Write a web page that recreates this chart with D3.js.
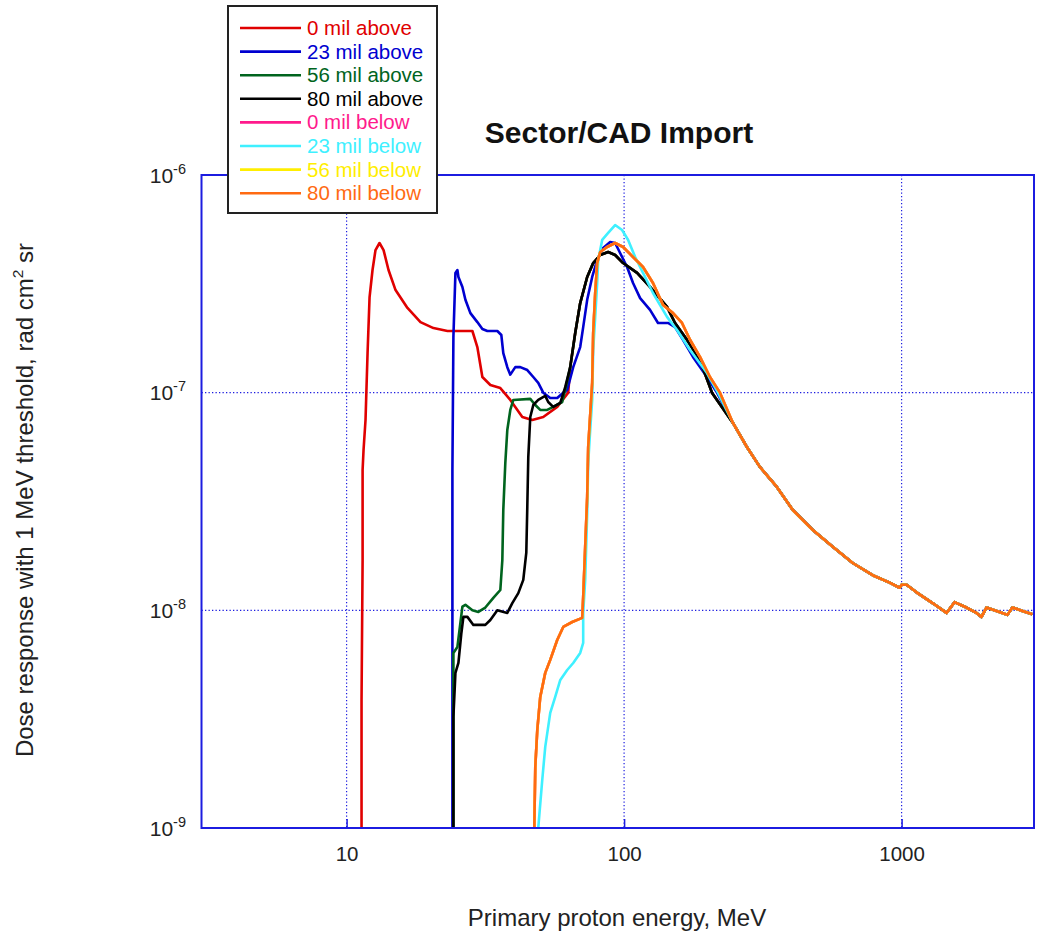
<!DOCTYPE html>
<html>
<head>
<meta charset="utf-8">
<script src="https://cdn.jsdelivr.net/npm/d3@7"></script>
<style>
  body { margin: 0; background: #fff; }
  svg { display: block; font-family: "Liberation Sans", Arial, Helvetica, sans-serif; }
</style>
</head>
<body>
<svg id="chart" width="1040" height="946"></svg>
<script>
// ---- Dose response data (energy in MeV, dose in rad cm^2 sr) ----

// Shared high-energy tail, common to every configuration
const tailEnergy = [246.7, 277.0, 308.5, 355.1, 405.4, 478.6, 564.8, 666.4, 786.6, 905.4, 983.5, 1000, 1042, 1132, 1293, 1452, 1551, 1713, 1861, 1940, 2022, 2252, 2406, 2508, 2725, 2960];
const tailDose = [7.26e-8, 5.63e-8, 4.56e-8, 3.69e-8, 2.89e-8, 2.34e-8, 1.96e-8, 1.65e-8, 1.45e-8, 1.34e-8, 1.27e-8, 1.31e-8, 1.31e-8, 1.21e-8, 1.08e-8, 9.73e-9, 1.09e-8, 1.03e-8, 9.73e-9, 9.33e-9, 1.03e-8, 9.83e-9, 9.53e-9, 1.03e-8, 9.94e-9, 9.6e-9];

// Main peak shared by the 0 / 56 / 80 mil "above" cases
const riseAboveEnergy = [63.95, 66.66, 69.47, 73.62, 77.38, 82.00, 87.62, 92.82, 99.17, 111.4, 124.0, 142.8, 152.6, 168.5, 187.7, 207.3];
const riseAboveDose = [1.31e-7, 1.88e-7, 2.58e-7, 3.40e-7, 3.94e-7, 4.29e-7, 4.43e-7, 4.29e-7, 3.94e-7, 3.55e-7, 3.06e-7, 2.48e-7, 2.09e-7, 1.75e-7, 1.41e-7, 1.0e-7];

// 0 mil above
const red0Energy = [11.32, 11.32, 11.42, 11.42, 11.51, 11.70, 11.90, 12.10, 12.40, 12.71, 13.14, 13.59, 14.16, 15.01, 16.57, 18.46, 20.56, 23.09, 28.40, 29.59, 30.85, 32.96, 35.81, 38.90, 42.97, 46.69, 51.13, 57.41, 62.90];
const red0Dose = [1.0e-9, 3.88e-9, 1.70e-8, 4.41e-8, 5.45e-8, 7.49e-8, 1.52e-7, 2.75e-7, 3.66e-7, 4.52e-7, 4.87e-7, 4.52e-7, 3.66e-7, 2.96e-7, 2.45e-7, 2.11e-7, 1.98e-7, 1.92e-7, 1.92e-7, 1.62e-7, 1.18e-7, 1.085e-7, 1.05e-7, 9.26e-8, 7.73e-8, 7.49e-8, 7.73e-8, 8.60e-8, 1.0e-7];

// 23 mil above
const blue23Energy = [24.06, 24.06, 24.26, 24.67, 25.08, 25.29, 26.14, 26.80, 27.93, 29.59, 30.85, 32.15, 34.93, 36.11, 36.70, 37.94, 38.90, 40.54, 42.26, 44.79, 47.07, 49.05, 51.13, 54.18, 57.41, 60.35, 62.37, 65.56, 69.47, 71.22, 73.62, 76.74, 79.99, 84.07, 89.08, 92.82, 96.74, 102.5, 107.7, 114.2, 124.0, 132.5, 144.0, 152.6, 163.0, 177.1, 198.9, 216.1];
const blue23Dose = [1.0e-9, 4.41e-8, 1.80e-7, 3.55e-7, 3.66e-7, 3.40e-7, 3.06e-7, 2.67e-7, 2.32e-7, 2.11e-7, 1.96e-7, 1.92e-7, 1.92e-7, 1.84e-7, 1.52e-7, 1.31e-7, 1.21e-7, 1.31e-7, 1.31e-7, 1.27e-7, 1.18e-7, 1.11e-7, 1.0e-7, 9.45e-8, 9.45e-8, 1.0e-7, 1.03e-7, 1.31e-7, 1.62e-7, 2.00e-7, 2.67e-7, 3.40e-7, 4.07e-7, 4.62e-7, 4.92e-7, 4.87e-7, 4.38e-7, 3.78e-7, 3.19e-7, 2.72e-7, 2.40e-7, 2.09e-7, 2.09e-7, 2.00e-7, 1.75e-7, 1.46e-7, 1.18e-7, 1.0e-7];

// 56 mil above
const green56Energy = [24.26, 24.26, 24.26, 25.08, 26.14, 26.80, 28.40, 29.84, 31.62, 33.79, 35.81, 36.41, 36.70, 37.32, 37.94, 38.90, 39.88, 45.91, 47.86, 49.87, 52.84, 55.54, 59.84, 61.35];
const green56Dose = [1.0e-9, 3.38e-9, 6.37e-9, 6.79e-9, 1.04e-8, 1.06e-8, 1.00e-8, 9.83e-9, 1.03e-8, 1.14e-8, 1.24e-8, 1.70e-8, 2.89e-8, 4.75e-8, 6.74e-8, 8.33e-8, 9.26e-8, 9.36e-8, 8.78e-8, 8.33e-8, 8.33e-8, 8.60e-8, 9.06e-8, 1.03e-7];

// 80 mil above
const black80Energy = [24.26, 24.26, 24.67, 25.29, 25.92, 26.36, 27.25, 28.63, 31.62, 32.96, 34.93, 37.94, 39.55, 41.57, 43.32, 44.42, 44.79, 45.16, 45.91, 47.07, 49.05, 51.98, 53.28, 55.54, 58.89, 61.35];
const black80Dose = [1.0e-9, 3.24e-9, 5.16e-9, 5.73e-9, 7.87e-9, 9.33e-9, 9.33e-9, 8.57e-9, 8.57e-9, 9.03e-9, 1.00e-8, 9.73e-9, 1.08e-8, 1.20e-8, 1.38e-8, 1.84e-8, 2.99e-8, 5.07e-8, 7.73e-8, 8.78e-8, 9.26e-8, 9.66e-8, 9.06e-8, 8.60e-8, 8.97e-8, 1.06e-7];

// 23 mil below
const cyan23Energy = [49.05, 50.70, 51.98, 54.18, 56.47, 58.89, 62.37, 65.56, 69.47, 71.22, 71.22, 72.41, 73.62, 74.24, 75.48, 76.74, 77.38, 78.68, 79.99, 80.66, 83.38, 87.62, 92.82, 98.35, 103.4, 109.6, 117.0, 127.1, 142.8, 155.1, 172.8, 198.9, 217.8];
const cyan23Dose = [1.0e-9, 1.66e-9, 2.36e-9, 3.38e-9, 4.00e-9, 4.79e-9, 5.32e-9, 5.73e-9, 6.37e-9, 7.08e-9, 9.73e-9, 1.38e-8, 2.80e-8, 4.75e-8, 6.74e-8, 9.26e-8, 1.57e-7, 2.23e-7, 3.19e-7, 4.07e-7, 5.03e-7, 5.42e-7, 5.89e-7, 5.59e-7, 5.03e-7, 4.20e-7, 3.55e-7, 2.87e-7, 2.23e-7, 1.94e-7, 1.57e-7, 1.23e-7, 1.0e-7];

// 0 / 56 / 80 mil below (coincident)
const below80Energy = [47.47, 47.86, 48.66, 49.87, 51.98, 54.18, 57.41, 60.35, 65.02, 70.63, 71.22, 72.41, 73.62, 74.24, 75.48, 76.74, 77.38, 78.68, 79.99, 82.00, 86.90, 92.82, 99.17, 107.7, 117.0, 127.1, 138.1, 150.1, 161.7, 172.8, 187.7, 203.9, 221.5];
const below80Dose = [1.0e-9, 1.91e-9, 2.82e-9, 4.00e-9, 5.16e-9, 5.92e-9, 7.31e-9, 8.39e-9, 8.84e-9, 9.23e-9, 1.15e-8, 1.96e-8, 3.32e-8, 5.63e-8, 7.90e-8, 1.11e-7, 1.88e-7, 2.87e-7, 3.94e-7, 4.43e-7, 4.67e-7, 4.87e-7, 4.67e-7, 4.20e-7, 3.78e-7, 3.19e-7, 2.53e-7, 2.32e-7, 2.09e-7, 1.75e-7, 1.46e-7, 1.18e-7, 1.0e-7];

const seriesNames = ["0 mil above", "23 mil above", "56 mil above", "80 mil above", "0 mil below", "23 mil below", "56 mil below", "80 mil below"];
const seriesColors = ["#e00000", "#0000d0", "#00641e", "#000000", "#ff1a8c", "#3ff0ff", "#ffee00", "#ff6a12"];

const xTicks = [10, 100, 1000];
const yTicks = [1e-6, 1e-7, 1e-8, 1e-9];

// ---- assemble point lists ----
function zip(e, d) { return e.map((v, i) => ({ e: v, d: d[i] })); }
const pointSets = [
  zip(red0Energy.concat(riseAboveEnergy, tailEnergy), red0Dose.concat(riseAboveDose, tailDose)),
  zip(blue23Energy.concat(tailEnergy), blue23Dose.concat(tailDose)),
  zip(green56Energy.concat(riseAboveEnergy, tailEnergy), green56Dose.concat(riseAboveDose, tailDose)),
  zip(black80Energy.concat(riseAboveEnergy, tailEnergy), black80Dose.concat(riseAboveDose, tailDose)),
  zip(below80Energy.concat(tailEnergy), below80Dose.concat(tailDose)),
  zip(cyan23Energy.concat(tailEnergy), cyan23Dose.concat(tailDose)),
  zip(below80Energy.concat(tailEnergy), below80Dose.concat(tailDose)),
  zip(below80Energy.concat(tailEnergy), below80Dose.concat(tailDose))
];

// ---- layout ----
const svg = d3.select("#chart");
const plotLeft = 201.5, plotRight = 1034, plotTop = 175, plotBottom = 828;

const x = d3.scaleLog().domain([3, 3000]).range([plotLeft, plotRight]);
const y = d3.scaleLog().domain([1e-9, 1e-6]).range([plotBottom, plotTop]);

const frameColor = "#1c1ce0";

// grid
const grid = svg.append("g");
grid.selectAll("line.vx").data(xTicks).join("line")
  .attr("x1", d => x(d)).attr("x2", d => x(d))
  .attr("y1", plotTop).attr("y2", plotBottom)
  .attr("stroke", frameColor).attr("stroke-width", 1.2).attr("stroke-dasharray", "1.3,2.2");
grid.selectAll("line.hy").data(yTicks.slice(1, 3)).join("line")
  .attr("x1", plotLeft).attr("x2", plotRight)
  .attr("y1", d => y(d)).attr("y2", d => y(d))
  .attr("stroke", frameColor).attr("stroke-width", 1.2).attr("stroke-dasharray", "1.3,2.2");

// clip for curves
svg.append("clipPath").attr("id", "plotClip")
  .append("rect").attr("x", plotLeft).attr("y", plotTop - 2)
  .attr("width", plotRight - plotLeft).attr("height", plotBottom - plotTop + 2);

const line = d3.line().x(p => x(p.e)).y(p => y(p.d));
svg.append("g").attr("clip-path", "url(#plotClip)")
  .selectAll("path").data(pointSets).join("path")
  .attr("d", line)
  .attr("fill", "none")
  .attr("stroke", (d, i) => seriesColors[i])
  .attr("stroke-width", 2.6)
  .attr("stroke-linejoin", "round");

// frame
svg.append("rect").attr("x", plotLeft).attr("y", plotTop)
  .attr("width", plotRight - plotLeft).attr("height", plotBottom - plotTop)
  .attr("fill", "none").attr("stroke", frameColor).attr("stroke-width", 2);

// bottom axis: inward ticks at decades and labels
const xAxis = d3.axisBottom(x).tickValues(xTicks).tickFormat(d3.format("d"))
  .tickSizeInner(-9).tickSizeOuter(0).tickPadding(18);
const gx = svg.append("g").attr("transform", `translate(0,${plotBottom})`).call(xAxis);
gx.select(".domain").remove();
gx.selectAll(".tick line").attr("stroke", frameColor).attr("stroke-width", 1.5);
gx.selectAll(".tick text").attr("font-size", 20.5).attr("fill", "#222")
  .attr("font-family", "Liberation Sans, Arial, sans-serif");

// left axis labels as powers of ten
const gy = svg.append("g");
gy.selectAll("text").data(yTicks).join("text")
  .attr("x", 186).attr("y", d => y(d) + 7.5)
  .attr("text-anchor", "end").attr("fill", "#222").attr("font-size", 21)
  .each(function (d) {
    const t = d3.select(this);
    t.append("tspan").text("10");
    t.append("tspan").attr("font-size", 14.5).attr("dy", -9).text(String(Math.round(Math.log10(d))));
  });

// title and axis titles
svg.append("text").attr("x", 619).attr("y", 143).attr("text-anchor", "middle")
  .attr("font-size", 30).attr("font-weight", "bold").attr("fill", "#111").text("Sector/CAD Import");

svg.append("text").attr("x", 617).attr("y", 926).attr("text-anchor", "middle")
  .attr("font-size", 24).attr("fill", "#222").text("Primary proton energy, MeV");

const yt = svg.append("text").attr("transform", "translate(33,500) rotate(-90)")
  .attr("text-anchor", "middle").attr("font-size", 24).attr("fill", "#222");
yt.append("tspan").text("Dose response with 1 MeV threshold, rad cm");
yt.append("tspan").attr("font-size", 15.5).attr("dy", -10).text("2");
yt.append("tspan").attr("dy", 10).text(" sr");

// legend
const legend = svg.append("g");
legend.append("rect").attr("x", 228).attr("y", 6).attr("width", 209).attr("height", 207)
  .attr("fill", "#fff").attr("stroke", "#222").attr("stroke-width", 2);
const rows = legend.selectAll("g.row").data(seriesNames).join("g")
  .attr("transform", (d, i) => `translate(0,${28 + i * 23.6})`);
rows.append("line").attr("x1", 240).attr("x2", 301).attr("y1", 0).attr("y2", 0)
  .attr("stroke", (d, i) => seriesColors[i]).attr("stroke-width", 2.6);
rows.append("text").attr("x", 307).attr("y", 7).attr("font-size", 20.5)
  .attr("fill", (d, i) => seriesColors[i]).text(d => d);
</script>
</body>
</html>
